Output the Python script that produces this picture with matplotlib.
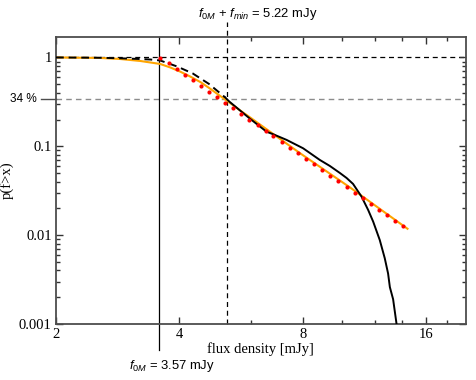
import matplotlib
matplotlib.use('Agg')
import matplotlib.pyplot as plt
from matplotlib.ticker import FixedLocator, NullFormatter, LogLocator

plt.rcParams['mathtext.fontset'] = 'custom'
plt.rcParams['mathtext.it'] = 'Liberation Sans:italic'
plt.rcParams['mathtext.rm'] = 'Liberation Sans'

# red points (model sample)
dots_x = [3.59, 3.77, 3.94, 4.12, 4.31, 4.51, 4.72, 4.94, 5.17, 5.41, 5.66, 5.92, 6.21,
          6.50, 6.79, 7.11, 7.45, 7.79, 8.15, 8.52, 8.91, 9.34, 9.77, 10.24, 10.71,
          11.20, 11.74, 12.27, 12.86, 13.45, 14.07]
dots_p = [0.995, 0.860, 0.737, 0.640, 0.554, 0.474, 0.412, 0.356, 0.310, 0.267, 0.231,
          0.200, 0.1725, 0.149, 0.130, 0.111, 0.0965, 0.0835, 0.0720, 0.0628, 0.0541,
          0.0466, 0.0402, 0.0347, 0.0301, 0.0260, 0.0224, 0.0193, 0.0169, 0.0146, 0.0126]

# orange curve (fit)
fit_x = [2.0, 2.56, 2.86, 3.21, 3.59, 3.80, 4.01, 4.24, 4.51, 4.74, 5.01, 5.30, 5.61,
         5.93, 7.88, 10.47, 14.42]
fit_p = [1.0, 0.987, 0.962, 0.913, 0.845, 0.772, 0.696, 0.614, 0.526, 0.450, 0.374,
         0.311, 0.256, 0.214, 0.0837, 0.0341, 0.0118]

# black curve, dashed below f0M + fmin
low_x = [2.0, 2.56, 2.86, 3.21, 3.40, 3.59, 3.94, 4.31, 4.72, 5.17]
low_p = [1.0, 0.992, 0.979, 0.960, 0.948, 0.925, 0.795, 0.662, 0.505, 0.3565]
high_x = [5.17, 5.30, 5.61, 5.93, 6.53, 6.78, 7.31, 8.02, 8.81, 9.32, 9.86, 10.24,
          10.62, 11.14, 11.56, 11.89, 12.34, 12.69, 12.93, 13.06, 13.30, 13.56]
high_p = [0.3565, 0.318, 0.256, 0.207, 0.146, 0.1366, 0.118, 0.095, 0.0702, 0.0601,
          0.0501, 0.044, 0.0377, 0.0271, 0.0192, 0.0142, 0.0088, 0.0055, 0.0037,
          0.0026, 0.0019, 0.001]

f0m = 3.57
f0m_fmin = 5.22
frac = 0.34

fig = plt.figure(figsize=(4.77, 3.80), dpi=100)
ax = fig.add_axes([0.1174, 0.1474, 0.8589, 0.7553])

ax.set_xscale('log', base=2)
ax.set_yscale('log')
ax.set_xlim(2, 20)
ax.set_ylim(0.001, 1.7)

dash = (0, (4, 3))
ax.axhline(1.0, color='black', lw=0.9, ls=dash, zorder=1)
ax.axhline(frac, color='0.55', lw=1.0, ls=dash, zorder=1)

# vertical markers, running outside the frame
trans = ax.get_xaxis_transform()
ax.plot([f0m, f0m], [-0.091, 1.0], transform=trans, color='black', lw=0.9,
        clip_on=False, zorder=1)
ax.plot([f0m_fmin, f0m_fmin], [0.0, 1.052], transform=trans, color='black', lw=0.9,
        ls=dash, clip_on=False, zorder=1)

ax.plot(fit_x, fit_p, color='#ffa500', lw=1.5, zorder=2)
ax.plot(low_x, low_p, color='black', lw=1.4, ls=(0, (4, 2.5)), zorder=3)
ax.plot(high_x, high_p, color='black', lw=1.4, zorder=3)
ax.plot(dots_x, dots_p, 'o', color='red', ms=3.0, mec='none', zorder=4)

# ticks
ax.xaxis.set_major_locator(FixedLocator([2, 4, 8, 16]))
ax.xaxis.set_minor_locator(FixedLocator([6, 10, 12, 14, 18]))
ax.set_xticklabels(['2', '4', '8', '16'])
ax.xaxis.set_minor_formatter(NullFormatter())
ax.yaxis.set_major_locator(FixedLocator([0.001, 0.01, 0.1, 1]))
ax.set_yticklabels(['0.001', '0.01', '0.1', '1'])
ax.yaxis.set_minor_locator(LogLocator(base=10, subs=range(2, 10)))
ax.yaxis.set_minor_formatter(NullFormatter())

ax.tick_params(which='both', direction='in', top=True, right=True, color='0.2',
               labelsize=10.5, pad=3)
ax.tick_params(which='major', length=5, width=1)
ax.tick_params(which='minor', length=3, width=1)
for lab in ax.get_xticklabels() + ax.get_yticklabels():
    lab.set_family('Liberation Serif')

for s in ax.spines.values():
    s.set_color('0.3')
    s.set_linewidth(1.3)

# 34 % mark on the left
ytrans = ax.get_yaxis_transform()
ax.plot([-0.037, 0], [frac, frac], transform=ytrans, color='0.3', lw=1.0, clip_on=False)
ax.text(-0.046, frac, '34 %', transform=ytrans, ha='right', va='center',
        family='Liberation Sans', fontsize=8.5)

ax.set_xlabel('flux density [mJy]', family='Liberation Serif', fontsize=10.5, labelpad=1)
ax.set_ylabel('p(f>x)', family='Liberation Serif', fontsize=10.5, labelpad=4)

fig.text(172 / 477, 1 - 366 / 380, r'$f_{\mathit{0M}}$ = 3.57 mJy', ha='center',
         va='center', family='Liberation Sans', fontsize=9.4)
fig.text(258 / 477, 1 - 14 / 380, r'$f_{\mathit{0M}}$ + $f_{\mathit{min}}$ = 5.22 mJy',
         ha='center', va='center', family='Liberation Sans', fontsize=9.4)

fig.savefig('out.png', dpi=100)
